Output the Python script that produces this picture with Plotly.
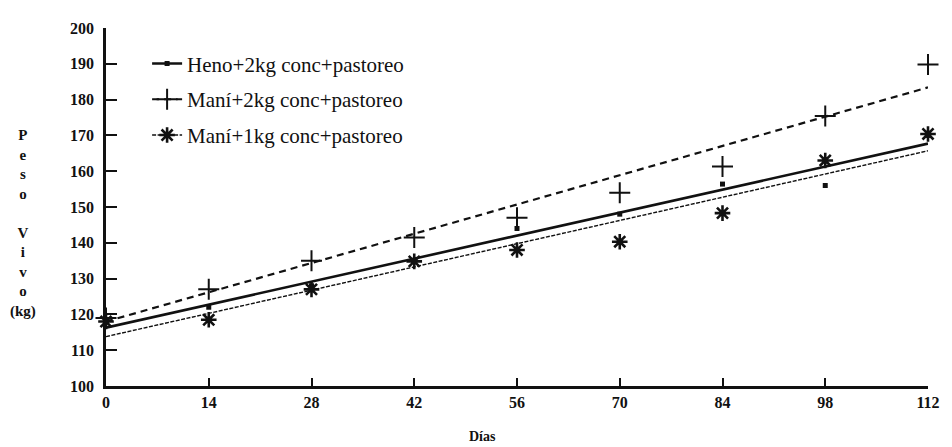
import plotly.graph_objects as go

dias = [0, 14, 28, 42, 56, 70, 84, 98, 112]
heno_2kg = [118, 122, 128, 135, 144, 148, 156.4, 156, 170]
mani_2kg = [119, 127, 135, 141.5, 147, 154, 161.3, 175.4, 189.8]
mani_1kg = [118, 118.5, 127, 134.8, 138, 140.3, 148.3, 163, 170.4]

fit_x = [0, 112]
heno_fit = [116.3, 167.7]
mani2_fit = [118.0, 183.4]
mani1_fit = [113.8, 165.7]

names = ["Heno+2kg conc+pastoreo", "Maní+2kg conc+pastoreo", "Maní+1kg conc+pastoreo"]
tick_vals_x = [0, 14, 28, 42, 56, 70, 84, 98, 112]
tick_vals_y = [100, 110, 120, 130, 140, 150, 160, 170, 180, 190, 200]

INK = "#111111"
SERIF = "Liberation Serif, Times New Roman, serif"
styles = [
    dict(line=dict(color=INK, width=2.6, dash="solid"),
         marker=dict(symbol="square", size=5, color=INK)),
    dict(line=dict(color=INK, width=2.2, dash="7px,5px"),
         marker=dict(symbol="cross-thin", size=15, color=INK, line=dict(color=INK, width=2))),
    dict(line=dict(color=INK, width=1.4, dash="4px,1.5px"),
         marker=dict(symbol="asterisk", size=13, color=INK, line=dict(color=INK, width=2.6))),
]
series = [heno_2kg, mani_2kg, mani_1kg]
fits = [heno_fit, mani2_fit, mani1_fit]
legends = ["legend", "legend2", "legend3"]

fig = go.Figure()
for i in range(3):
    fig.add_trace(go.Scatter(x=fit_x, y=fits[i], mode="lines", line=styles[i]["line"],
                             showlegend=False, hoverinfo="skip", cliponaxis=False))
    fig.add_trace(go.Scatter(x=dias, y=series[i], mode="markers", marker=styles[i]["marker"],
                             showlegend=False, cliponaxis=False, name=names[i]))
    fig.add_trace(go.Scatter(x=[None], y=[None], mode="lines+markers", name=names[i],
                             line=styles[i]["line"], marker=styles[i]["marker"],
                             showlegend=True, legend=legends[i]))

leg_font = dict(family=SERIF, size=21, color=INK)
leg_y = [190, 180, 170]
for i, lg in enumerate(legends):
    fig.update_layout(**{lg: dict(x=0.05, xanchor="left", y=(leg_y[i] - 100) / 100.0, yanchor="middle",
                                  font=leg_font, bgcolor="rgba(0,0,0,0)", borderwidth=0,
                                  itemwidth=30)})

tick_font = dict(family=SERIF, size=16, color=INK)
fig.update_xaxes(range=[0, 112], tickvals=tick_vals_x, ticktext=[f"<b>{v}</b>" for v in tick_vals_x],
                 ticks="inside", ticklen=8, tickwidth=2,
                 tickcolor=INK, showline=True, linecolor=INK, linewidth=2.5, showgrid=False,
                 zeroline=False, tickfont=tick_font, ticklabelstandoff=0)
fig.update_yaxes(range=[100, 200], tickvals=tick_vals_y, ticktext=[f"<b>{v}</b>" for v in tick_vals_y],
                 ticks="inside", ticklen=11, tickwidth=2,
                 tickcolor=INK, showline=True, linecolor=INK, linewidth=2.5, showgrid=False,
                 zeroline=False, tickfont=tick_font, ticklabelstandoff=6)

fig.add_annotation(text="<b>P<br>e<br>s<br>o<br> <br>V<br>i<br>v<br>o<br>(kg)</b>",
                   xref="paper", yref="paper", x=(22 - 106) / 833, y=(386 - 221) / 364,
                   xanchor="center", yanchor="middle", showarrow=False, align="center",
                   font=dict(family=SERIF, size=15, color=INK))
fig.add_annotation(text="<b>Días</b>", xref="paper", yref="paper",
                   x=(488 - 106) / 833, y=(386 - 437) / 364, xanchor="center", yanchor="middle",
                   showarrow=False, font=dict(family=SERIF, size=14, color=INK))

# page body has an 8px default margin, so the figure is sized to fit the window from (8, 8)
fig.update_layout(width=944, height=439, margin=dict(l=98, r=13, t=14, b=61),
                  paper_bgcolor="white", plot_bgcolor="white")
fig.write_html("out.html")
